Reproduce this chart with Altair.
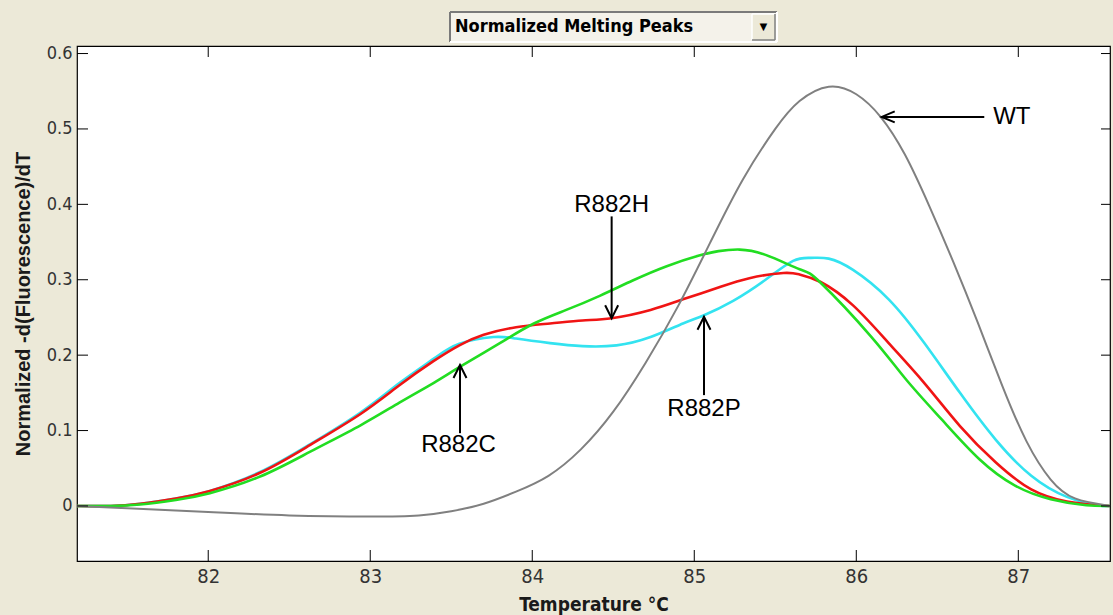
import altair as alt
import pandas as pd

# ---------------- data ----------------
x_ticks = [82, 83, 84, 85, 86, 87]
y_ticks = [0, 0.1, 0.2, 0.3, 0.4, 0.5, 0.6]
x_range = [81.19, 87.566]
y_range = [-0.073, 0.61]

wt_t = [81.19, 81.6, 82.0, 82.5, 83.0, 83.3, 83.5, 83.7, 83.9, 84.1, 84.3, 84.5, 84.7, 84.9,
        85.1, 85.3, 85.5, 85.65, 85.83, 86.0, 86.15, 86.3, 86.45, 86.6, 86.75, 86.9, 87.05,
        87.2, 87.35, 87.566]
wt_v = [0.0, -0.004, -0.008, -0.0125, -0.014, -0.0125, -0.007, 0.003, 0.019, 0.040, 0.075, 0.125,
        0.190, 0.265, 0.350, 0.433, 0.500, 0.537, 0.556, 0.546, 0.516, 0.466, 0.398, 0.323,
        0.243, 0.160, 0.086, 0.035, 0.010, 0.0]

r882h_t = [81.19, 81.4, 81.58, 81.8, 82.01, 82.32, 82.63, 82.94, 83.18, 83.39, 83.55, 83.7, 83.9,
           84.11, 84.31, 84.49, 84.73, 84.93, 85.14, 85.34, 85.55, 85.65, 85.78, 85.98, 86.2,
           86.42, 86.64, 86.86, 87.08, 87.3, 87.49, 87.566]
r882h_v = [0.0, 0.0, 0.003, 0.010, 0.020, 0.044, 0.081, 0.122, 0.160, 0.192, 0.213, 0.227, 0.237,
           0.242, 0.246, 0.249, 0.260, 0.274, 0.289, 0.302, 0.309, 0.307, 0.297, 0.266, 0.216,
           0.163, 0.106, 0.058, 0.022, 0.006, 0.001, 0.0]

r882c_t = [81.19, 81.4, 81.58, 81.8, 82.01, 82.32, 82.63, 82.94, 83.18, 83.39, 83.55, 83.8, 84.01,
           84.21, 84.42, 84.62, 84.83, 85.03, 85.15, 85.28, 85.44, 85.65, 85.78, 86.09, 86.31,
           86.53, 86.76, 86.98, 87.2, 87.42, 87.566]
r882c_v = [0.0, 0.0, 0.002, 0.008, 0.017, 0.039, 0.072, 0.107, 0.137, 0.163, 0.184, 0.216, 0.242,
           0.260, 0.279, 0.299, 0.318, 0.332, 0.338, 0.340, 0.333, 0.314, 0.296, 0.225, 0.167,
           0.114, 0.062, 0.027, 0.009, 0.001, 0.0]

r882p_t = [81.19, 81.4, 81.58, 81.8, 82.01, 82.32, 82.63, 82.94, 83.18, 83.39, 83.55, 83.76, 83.9,
           84.11, 84.31, 84.52, 84.73, 84.93, 85.06, 85.24, 85.44, 85.61, 85.72, 85.83, 85.98,
           86.2, 86.42, 86.64, 86.86, 87.08, 87.3, 87.49, 87.566]
r882p_v = [0.0, 0.0, 0.003, 0.010, 0.020, 0.045, 0.082, 0.124, 0.163, 0.195, 0.215, 0.224, 0.222,
           0.216, 0.212, 0.213, 0.224, 0.242, 0.253, 0.272, 0.300, 0.325, 0.329, 0.328, 0.313,
           0.274, 0.216, 0.150, 0.088, 0.040, 0.012, 0.001, 0.0]

ann_label = ["WT", "R882H", "R882C", "R882P"]
ann_dir = ["left", "down", "up", "up"]
ann_tip_t = [86.157, 84.49, 83.554, 85.06]
ann_tip_v = [0.516, 0.249, 0.187, 0.251]
ann_tail_t = [86.79, 84.49, 83.554, 85.06]
ann_tail_v = [0.516, 0.384, 0.0965, 0.147]
ann_text_t = [86.96, 84.49, 83.545, 85.06]
ann_text_v = [0.516, 0.399, 0.081, 0.128]

panel_title = "Normalized Melting Peaks"
x_title = "Temperature \u00b0C"
y_title = "Normalized -d(Fluorescence)/dT"

# ---------------- build tables ----------------
series = [("R882P", r882p_t, r882p_v), ("R882H", r882h_t, r882h_v),
          ("R882C", r882c_t, r882c_v), ("WT", wt_t, wt_v)]
rows = []
for name, ts, vs in series:
    for t, v in zip(ts, vs):
        rows.append({"series": name, "t": t, "v": v})
curves = pd.DataFrame(rows)

ann = pd.DataFrame({"label": ann_label, "dir": ann_dir,
                    "tip_t": ann_tip_t, "tip_v": ann_tip_v,
                    "tail_t": ann_tail_t, "tail_v": ann_tail_v,
                    "text_t": ann_text_t, "text_v": ann_text_v})
xt = pd.DataFrame({"t": x_ticks})
yt = pd.DataFrame({"v": y_ticks})
ui = pd.DataFrame({"title": [panel_title]})

# ---------------- styling ----------------
W, H = 1033, 515
NARROW = "Liberation Sans Narrow, Arial Narrow, DejaVu Sans Condensed, Liberation Sans, sans-serif"
ARIAL = "Liberation Sans, Arial, sans-serif"

xs = alt.Scale(domain=x_range, nice=False, zero=False)
ys = alt.Scale(domain=y_range, nice=False, zero=False)

x_axis = alt.Axis(values=x_ticks, format="d", ticks=False, tickSize=0, domain=False, grid=False,
                  labelFont=NARROW, labelFontSize=20, labelColor="#333333", labelPadding=5,
                  title=x_title, titleFont=NARROW, titleFontSize=19, titleFontWeight="bold",
                  titleColor="#1a1a1a", titlePadding=9)
y_axis = alt.Axis(values=y_ticks, format=".1~f", ticks=False, tickSize=0, domain=False, grid=False,
                  labelFont=NARROW, labelFontSize=18, labelColor="#333333", labelPadding=5,
                  title=y_title, titleFont=ARIAL, titleFontSize=20, titleFontWeight="bold",
                  titleColor="#1a1a1a", titlePadding=13)

def X(field):
    return alt.X(field, type="quantitative", scale=xs, axis=x_axis)

def Y(field):
    return alt.Y(field, type="quantitative", scale=ys, axis=y_axis)

colors = {"WT": "#808080", "R882H": "#F01414", "R882C": "#22DD22", "R882P": "#33E3F0"}
widths = {"WT": 2.0, "R882H": 2.6, "R882C": 2.6, "R882P": 2.6}

layers = []
for name in ["R882P", "R882H", "R882C", "WT"]:
    layers.append(
        alt.Chart(curves).transform_filter(alt.datum.series == name)
        .mark_line(color=colors[name], strokeWidth=widths[name], interpolate="natural")
        .encode(x=X("t"), y=Y("v"))
    )

# inward ticks on all four sides
tick_len = 11
layers.append(alt.Chart(xt).mark_rule(color="black", strokeWidth=1)
              .encode(x=X("t"), y=alt.value(H), y2=alt.value(H - tick_len)))
layers.append(alt.Chart(xt).mark_rule(color="black", strokeWidth=1)
              .encode(x=X("t"), y=alt.value(0), y2=alt.value(tick_len)))
layers.append(alt.Chart(yt).mark_rule(color="black", strokeWidth=1)
              .encode(y=Y("v"), x=alt.value(0), x2=alt.value(tick_len)))
layers.append(alt.Chart(yt).mark_rule(color="black", strokeWidth=1)
              .encode(y=Y("v"), x=alt.value(W), x2=alt.value(W - 9)))

# annotation arrows
layers.append(alt.Chart(ann).mark_rule(color="black", strokeWidth=2)
              .encode(x=X("tail_t"), y=Y("tail_v"), x2="tip_t", y2="tip_v"))
heads = {"up": "M -0.5 1 L 0 0 L 0.5 1",
         "down": "M -0.5 -1 L 0 0 L 0.5 -1",
         "left": "M 1 -0.42 L 0 0 L 1 0.42"}
for d, path in heads.items():
    layers.append(alt.Chart(ann).transform_filter(alt.datum.dir == d)
                  .mark_point(shape=path, size=676, filled=False, color="black",
                              strokeWidth=2, opacity=1)
                  .encode(x=X("tip_t"), y=Y("tip_v")))
layers.append(alt.Chart(ann).mark_text(font=ARIAL, fontSize=24, baseline="middle",
                                       align="center", color="black")
              .encode(x=X("text_t"), y=Y("text_v"), text="label:N"))

# dropdown-style panel title
layers.append(alt.Chart(ui).mark_rect(fill="#F4F2EA")
              .encode(x=alt.value(373), x2=alt.value(700), y=alt.value(-34), y2=alt.value(-4)))
layers.append(alt.Chart(ui).mark_rule(color="#7a7a7a", strokeWidth=2)
              .encode(x=alt.value(373), x2=alt.value(700), y=alt.value(-34)))
layers.append(alt.Chart(ui).mark_rule(color="#7a7a7a", strokeWidth=2)
              .encode(x=alt.value(373), y=alt.value(-34), y2=alt.value(-4)))
layers.append(alt.Chart(ui).mark_rule(color="#ffffff", strokeWidth=2)
              .encode(x=alt.value(373), x2=alt.value(700), y=alt.value(-4)))
layers.append(alt.Chart(ui).mark_rule(color="#ffffff", strokeWidth=2)
              .encode(x=alt.value(700), y=alt.value(-34), y2=alt.value(-4)))
layers.append(alt.Chart(ui).mark_rect(fill="#ECE9D8")
              .encode(x=alt.value(675), x2=alt.value(698), y=alt.value(-32), y2=alt.value(-6)))
layers.append(alt.Chart(ui).mark_rule(color="#ffffff", strokeWidth=1.5)
              .encode(x=alt.value(675), x2=alt.value(698), y=alt.value(-32)))
layers.append(alt.Chart(ui).mark_rule(color="#ffffff", strokeWidth=1.5)
              .encode(x=alt.value(675), y=alt.value(-32), y2=alt.value(-6)))
layers.append(alt.Chart(ui).mark_rule(color="#808080", strokeWidth=1.5)
              .encode(x=alt.value(675), x2=alt.value(698), y=alt.value(-6)))
layers.append(alt.Chart(ui).mark_rule(color="#808080", strokeWidth=1.5)
              .encode(x=alt.value(698), y=alt.value(-32), y2=alt.value(-6)))
layers.append(alt.Chart(ui).mark_text(text="\u25bc", fontSize=13, color="black",
                                      align="center", baseline="middle")
              .encode(x=alt.value(686.5), y=alt.value(-19)))
layers.append(alt.Chart(ui).mark_text(font=NARROW, fontSize=18, fontWeight="bold", color="black",
                                      align="left", baseline="middle")
              .encode(x=alt.value(378), y=alt.value(-19), text="title:N"))

chart = (
    alt.layer(*layers)
    .properties(width=W, height=H,
                padding={"left": 77, "top": 46, "right": 3, "bottom": 54},
                autosize=alt.AutoSizeParams(type="none"),
                background="#ECE9D8")
    .configure_view(fill="white", stroke="black", strokeWidth=1.2)
)

chart.save("out.html", embed_options={"renderer": "svg", "actions": False})
